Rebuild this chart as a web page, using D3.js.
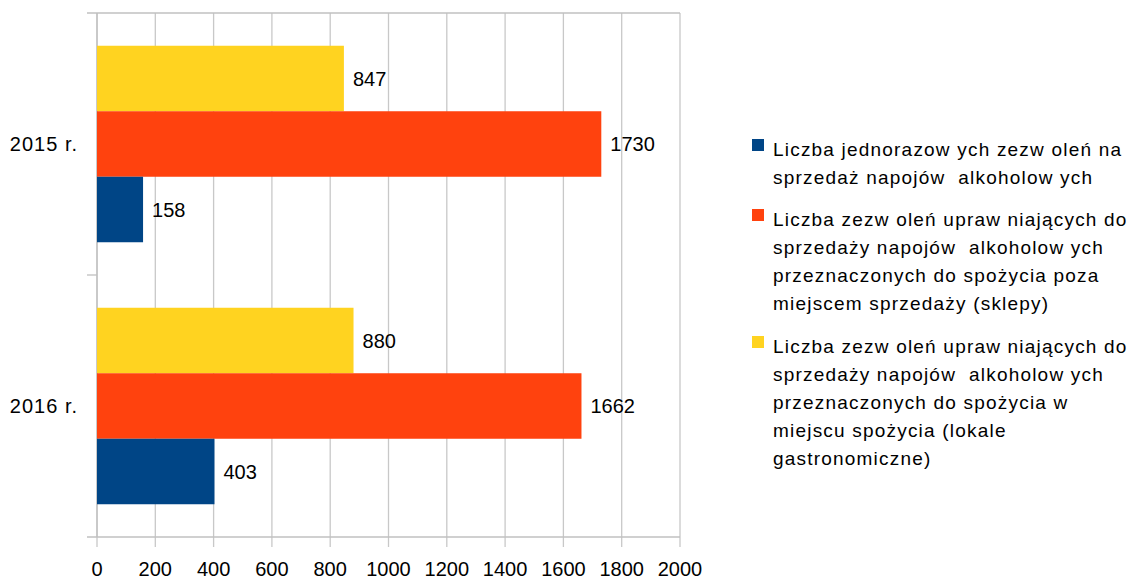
<!DOCTYPE html>
<html>
<head>
<meta charset="utf-8">
<script src="https://cdn.jsdelivr.net/npm/d3@7"></script>
<style>
  body { margin: 0; background: #fff; }
  text { font-family: "Liberation Sans", Arial, sans-serif; fill: #000; }
</style>
</head>
<body>
<svg id="chart" width="1133" height="580"></svg>
<script>
// data
var categories = ["2015 r.", "2016 r."];
var seriesNames = [
  ["Liczba jednorazow ych zezw oleń na", "sprzedaż napojów  alkoholow ych"],
  ["Liczba zezw oleń upraw niających do", "sprzedaży napojów  alkoholow ych", "przeznaczonych do spożycia poza", "miejscem sprzedaży (sklepy)"],
  ["Liczba zezw oleń upraw niających do", "sprzedaży napojów  alkoholow ych", "przeznaczonych do spożycia w", "miejscu spożycia (lokale", "gastronomiczne)"]
];
var jednorazowe = [158, 403];
var sklepy = [1730, 1662];
var lokale = [847, 880];
var xTicks = [0, 200, 400, 600, 800, 1000, 1200, 1400, 1600, 1800, 2000];
var colors = ["#004586", "#ff420e", "#ffd320"];

var series = [jednorazowe, sklepy, lokale];
// drawn top to bottom inside each category: lokale, sklepy, jednorazowe
var drawOrder = [2, 1, 0];

var margin = {top: 13, left: 97},
    width = 680 - 97,
    height = 537 - 13;

var svg = d3.select("#chart")
  .append("g")
    .attr("transform", "translate(" + margin.left + "," + margin.top + ")");

var x = d3.scaleLinear().domain([0, 2000]).range([0, width]);
var y = d3.scaleBand().domain(categories).range([0, height]);
var inner = d3.scaleBand().domain(drawOrder).range([0, y.bandwidth()]).paddingOuter(0.5).paddingInner(0);

// gridlines
svg.selectAll(".grid")
  .data(xTicks)
  .enter().append("line")
    .attr("x1", function(d) { return x(d); })
    .attr("x2", function(d) { return x(d); })
    .attr("y1", 0)
    .attr("y2", height + 10)
    .style("stroke", "#c8c8c8")
    .style("stroke-width", 1.3);

// horizontal lines (top, category separator, bottom axis)
var hLines = [0, y.bandwidth(), height];
svg.selectAll(".hline")
  .data(hLines)
  .enter().append("line")
    .attr("x1", -10)
    .attr("x2", function(d, i) { return i == 1 ? 0 : width; })
    .attr("y1", function(d) { return d; })
    .attr("y2", function(d) { return d; })
    .style("stroke", "#c0c0c0")
    .style("stroke-width", 1.3);

svg.append("line")
  .attr("x1", 0).attr("x2", 0)
  .attr("y1", 0).attr("y2", height)
  .style("stroke", "#c0c0c0")
  .style("stroke-width", 1.3);

// bars
categories.forEach(function(cat, ci) {
  drawOrder.forEach(function(si) {
    var v = series[si][ci];
    var g = svg.append("g");
    g.append("rect")
      .attr("x", 0)
      .attr("y", y(cat) + inner(si))
      .attr("width", x(v))
      .attr("height", inner.bandwidth())
      .style("fill", colors[si]);
    g.append("text")
      .attr("x", x(v) + 9)
      .attr("y", y(cat) + inner(si) + inner.bandwidth() / 2)
      .attr("dy", "0.35em")
      .style("font-size", "20px")
      .text(v);
  });
});

// category labels
svg.selectAll(".cat")
  .data(categories)
  .enter().append("text")
    .attr("x", -19)
    .attr("y", function(d) { return y(d) + y.bandwidth() / 2; })
    .attr("dy", "0.35em")
    .style("text-anchor", "end")
    .style("font-size", "20px")
    .style("letter-spacing", "1px")
    .text(function(d) { return d; });

// x tick labels
svg.selectAll(".xt")
  .data(xTicks)
  .enter().append("text")
    .attr("x", function(d) { return x(d); })
    .attr("y", height + 39)
    .style("text-anchor", "middle")
    .style("font-size", "20px")
    .text(function(d) { return d; });

// legend
var legend = d3.select("#chart").append("g");
var ly = [156, 226, 353];
seriesNames.forEach(function(lines, i) {
  legend.append("rect")
    .attr("x", 752)
    .attr("y", ly[i] - 17)
    .attr("width", 12)
    .attr("height", 12)
    .style("fill", colors[i]);
  lines.forEach(function(t, j) {
    legend.append("text")
      .attr("x", 773)
      .attr("y", ly[i] + j * 28)
      .style("font-size", "19px")
      .style("letter-spacing", "1.2px")
      .style("white-space", "pre")
      .text(t);
  });
});
</script>
</body>
</html>
